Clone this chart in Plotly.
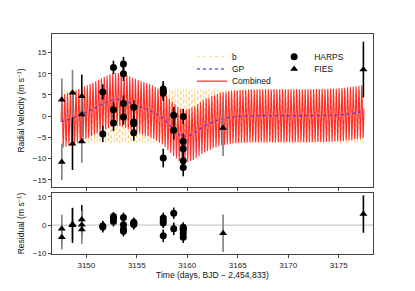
import numpy as np
import plotly.graph_objects as go

# ---------------- data ----------------
harps_t = [3151.63, 3151.63, 3152.69, 3152.69, 3152.69, 3153.68, 3153.68, 3153.68, 3153.68,
           3154.70, 3154.70, 3154.70, 3154.70, 3157.62, 3157.62, 3157.62, 3157.62,
           3158.66, 3158.66, 3159.60, 3159.60, 3159.60, 3159.60, 3159.60]
harps_rv = [5.7, -4.2, 11.5, 1.5, -1.6, 12.3, 10.0, 3.0, -0.2,
            2.1, -1.4, -1.8, -3.9, 6.4, 5.9, 5.4, -9.9,
            0.2, -3.3, -0.1, -6.0, -7.7, -10.5, -12.1]
harps_err = [1.8, 1.9, 1.6, 1.8, 1.9, 1.7, 1.7, 1.9, 1.8,
             1.6, 1.8, 1.8, 1.9, 1.9, 1.8, 1.8, 2.2,
             2.0, 2.2, 1.8, 1.9, 1.8, 2.0, 2.1]
harps_res = [-0.3, -0.7, 3.0, 1.3, 2.2, 2.7, 0.1, -1.5, -2.2,
             1.0, 0.5, 0.2, 0.7, 2.5, 1.5, 0.7, -3.8,
             4.2, -1.3, -0.8, -1.3, -3.0, -4.3, -1.8]

fies_t = [3147.57, 3147.57, 3148.63, 3148.63, 3149.55, 3149.55, 3149.55, 3163.55, 3177.45]
fies_rv = [3.9, -10.8, 5.5, -6.5, 4.7, 0.4, -6.0, -2.8, 11.0]
fies_err = [5.0, 4.3, 5.4, 6.2, 5.1, 5.0, 5.0, 6.6, 6.6]
fies_res = [-1.3, -4.3, 0.3, -0.1, 2.0, 0.1, -1.6, -2.9, 3.9]

# GP curve read at knots
gp_t = [3147.5, 3148.5, 3149.5, 3150.5, 3151.5, 3152.5, 3153.0, 3153.7, 3154.5, 3155.5,
        3156.5, 3157.5, 3158.5, 3159.2, 3159.9, 3160.7, 3161.5, 3162.5, 3163.5, 3164.5,
        3166.0, 3168.0, 3170.0, 3172.0, 3174.0, 3175.5, 3177.5]
gp_v = [-1.3, -0.6, 0.4, 1.5, 2.7, 3.8, 4.0, 3.7, 2.9, 2.0,
        1.1, -0.3, -2.8, -4.4, -4.7, -4.0, -2.6, -1.4, -0.6, -0.2,
        0.05, 0.1, 0.1, 0.1, 0.2, 0.4, 1.1]

# planet b orbit parameters
b_period = 0.2803
b_amp = 6.25
b_t0 = 3147.5

x_ticks = [3150, 3155, 3160, 3165, 3170, 3175]
rv_ticks = [-15, -10, -5, 0, 5, 10, 15]
res_ticks = [-10, 0, 10]

# ---------------- model ----------------
t_model = np.arange(gp_t[0], gp_t[-1], 0.003)
b_model = b_amp * np.sin(2 * np.pi * (t_model - b_t0) / b_period)
gp_model = np.interp(t_model, gp_t, gp_v)
comb_model = b_model + gp_model

# ---------------- style ----------------
FONT = "Liberation Sans, Arial, sans-serif"
AX = "#444444"
FIES_BAR_COLORS = ["#7f7f7f", "#7f7f7f", "#7f7f7f", "#000000", "#000000",
                   "#7f7f7f", "#7f7f7f", "#7f7f7f", "#000000"]

fig = go.Figure()

fig.add_trace(go.Scatter(x=t_model, y=b_model, mode="lines", name="b",
                         line=dict(color="rgba(255,175,40,0.55)", width=1, dash="dot"),
                         legend="legend", xaxis="x", yaxis="y"))
fig.add_trace(go.Scatter(x=t_model, y=comb_model, mode="lines", name="Combined",
                         line=dict(color="rgba(255,0,0,0.8)", width=1.1),
                         legend="legend3", xaxis="x", yaxis="y"))
fig.add_trace(go.Scatter(x=gp_t, y=gp_v, mode="lines", name="GP", line_shape="spline",
                         line=dict(color="rgba(40,40,255,0.75)", width=1.3, dash="dot"),
                         legend="legend2", xaxis="x", yaxis="y"))

# error bars for FIES (individual colors)
for i in range(len(fies_t)):
    for yv, ax_y in ((fies_rv, "y"), (fies_res, "y2")):
        fig.add_trace(go.Scatter(x=[fies_t[i]], y=[yv[i]], mode="markers",
                                 marker=dict(size=1, color="rgba(0,0,0,0)"),
                                 error_y=dict(type="data", array=[fies_err[i]], color=FIES_BAR_COLORS[i],
                                              thickness=1.6, width=0),
                                 showlegend=False, hoverinfo="skip", xaxis="x2" if ax_y == "y2" else "x",
                                 yaxis=ax_y))

fig.add_trace(go.Scatter(x=harps_t, y=harps_rv, mode="markers", name="HARPS",
                         marker=dict(symbol="circle", size=7, color="black"),
                         error_y=dict(type="data", array=harps_err, color="black", thickness=1.6, width=0),
                         legend="legend4", xaxis="x", yaxis="y"))
fig.add_trace(go.Scatter(x=fies_t, y=fies_rv, mode="markers", name="FIES",
                         marker=dict(symbol="triangle-up", size=7, color="black"),
                         legend="legend5", xaxis="x", yaxis="y"))

fig.add_trace(go.Scatter(x=harps_t, y=harps_res, mode="markers", showlegend=False,
                         marker=dict(symbol="circle", size=7, color="black"),
                         error_y=dict(type="data", array=harps_err, color="black", thickness=1.6, width=0),
                         xaxis="x2", yaxis="y2"))
fig.add_trace(go.Scatter(x=fies_t, y=fies_res, mode="markers", showlegend=False,
                         marker=dict(symbol="triangle-up", size=7, color="black"),
                         xaxis="x2", yaxis="y2"))

xrange = [3146.6, 3178.4]
common_axis = dict(showgrid=False, zeroline=False, showline=True, linecolor=AX, linewidth=1,
                   mirror=True, ticks="outside", ticklen=3, tickcolor=AX, tickwidth=1,
                   automargin=False, tickfont=dict(size=8, color="#222222"))


def leg(x, y):
    return dict(x=x, y=y, xanchor="left", yanchor="middle", bgcolor="rgba(0,0,0,0)",
                font=dict(size=8.5), itemwidth=30, borderwidth=0)


fig.update_layout(
    width=415, height=291,
    margin=dict(l=52, r=42, t=34, b=37, autoexpand=False),
    paper_bgcolor="white", plot_bgcolor="white",
    font=dict(family=FONT, size=8, color="#111111"),
    xaxis=dict(domain=[0, 1], range=xrange, anchor="y", tickvals=x_ticks, showticklabels=False,
               **common_axis),
    yaxis=dict(domain=[0.305, 1], range=[-16.7, 19.4], anchor="x", tickvals=rv_ticks,
               title=dict(text="Radial Velocity (m s<sup>−1</sup>)", font=dict(size=8.5), standoff=6),
               **common_axis),
    xaxis2=dict(domain=[0, 1], range=xrange, anchor="y2", tickvals=x_ticks,
                title=dict(text="Time (days, BJD − 2,454,833)", font=dict(size=8.5), standoff=2),
                **common_axis),
    yaxis2=dict(domain=[0, 0.277], range=[-10.2, 11.3], anchor="x2", tickvals=res_ticks,
                title=dict(text="Residual (m s<sup>−1</sup>)", font=dict(size=8.5), standoff=6),
                **common_axis),
    shapes=[dict(type="line", xref="x2 domain", yref="y2", x0=0, x1=1, y0=0, y1=0,
                 line=dict(color="#bbbbbb", width=1), layer="below")],
    legend=leg(0.436, 0.897),
    legend2=leg(0.436, 0.841),
    legend3=leg(0.436, 0.786),
    legend4=leg(0.692, 0.897),
    legend5=leg(0.692, 0.841),
)

fig.write_html("out.html", config={"displayModeBar": False},
               post_script="document.body.style.margin='0px';document.body.style.overflow='hidden';")
